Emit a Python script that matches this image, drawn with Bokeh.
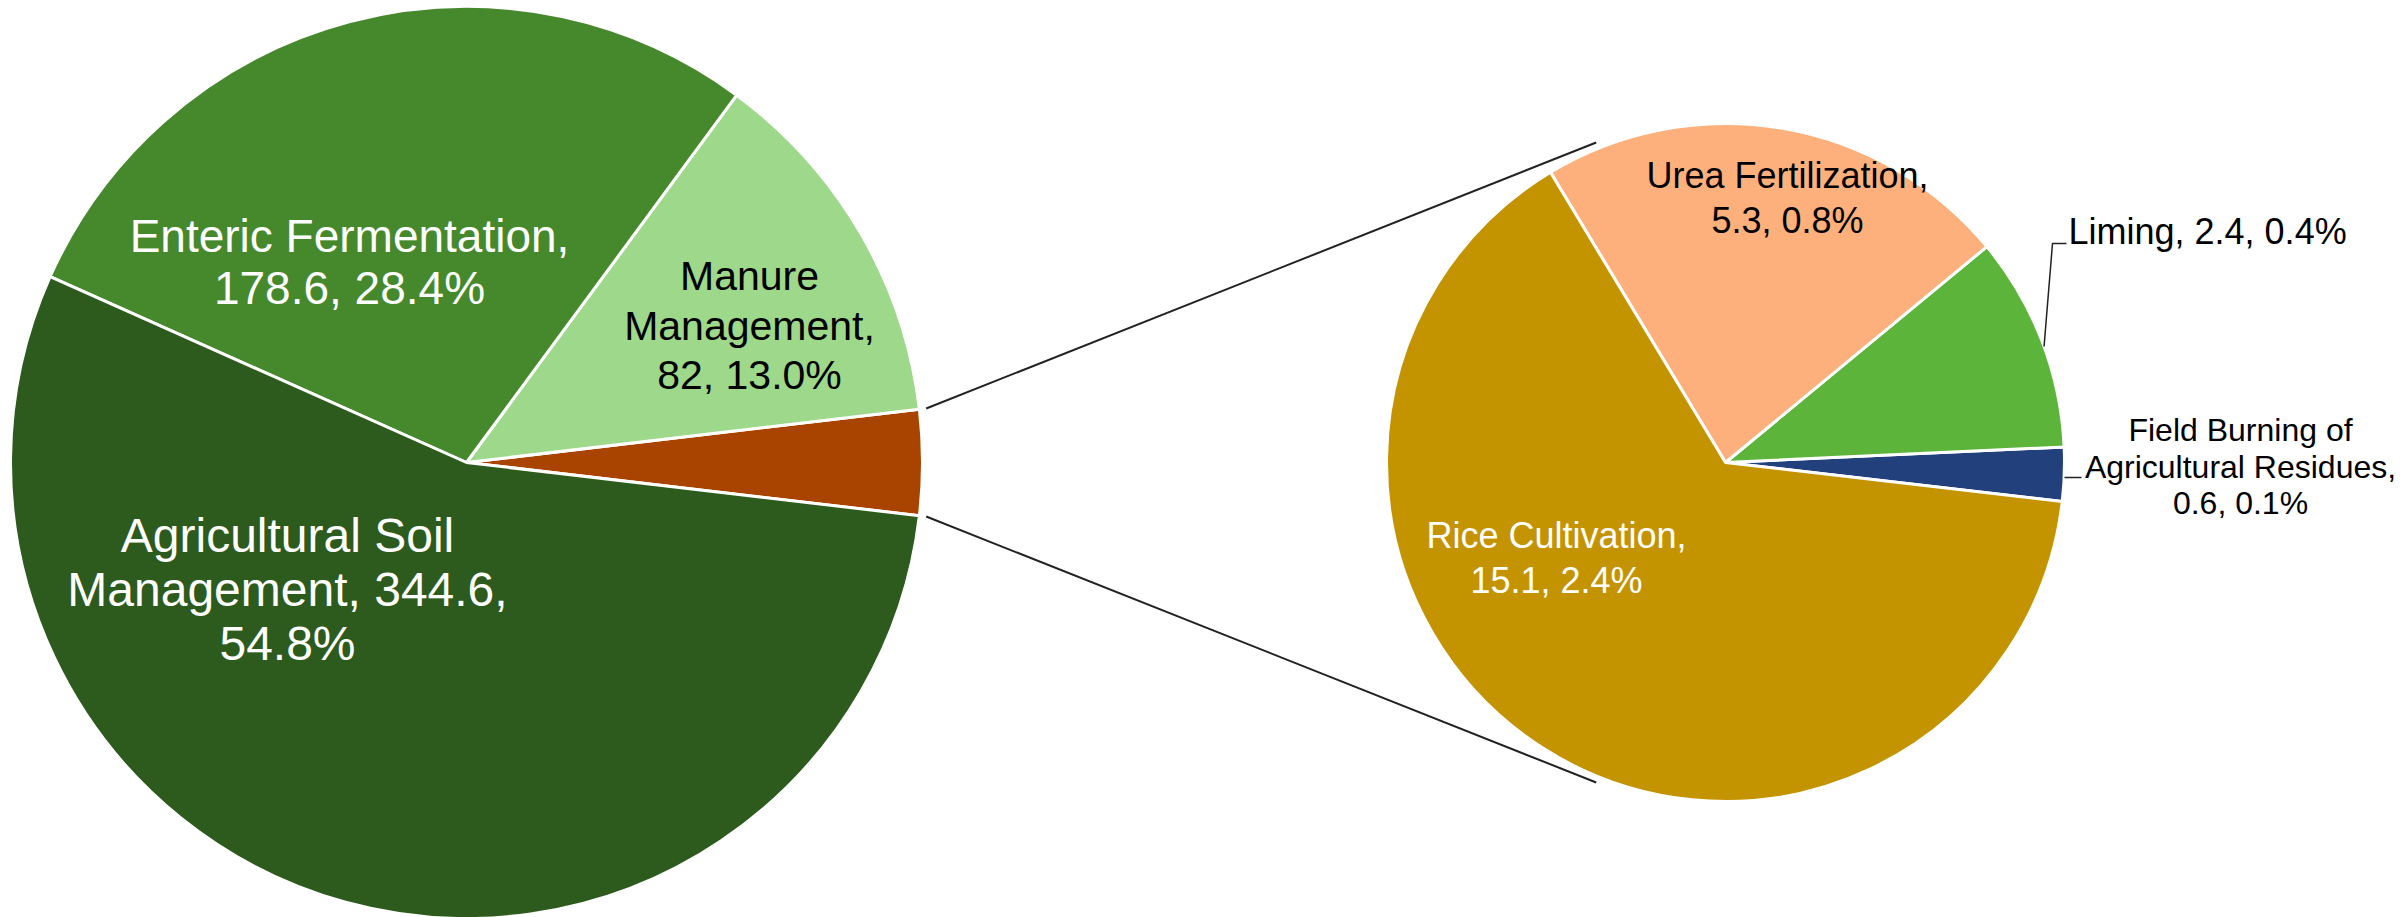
import math
from bokeh.plotting import figure
from bokeh.models import ColumnDataSource, Range1d
from bokeh.core.properties import value
from bokeh.embed import file_html
from bokeh.resources import INLINE

# ---------------- data ----------------
sub_categories = ["Field Burning of Agricultural Residues", "Liming", "Urea Fertilization", "Rice Cultivation"]
sub_values = [0.6, 2.4, 5.3, 15.1]
sub_colors = ["#22407C", "#5DB43A", "#FDB07C", "#C49300"]

main_categories = ["Other", "Manure Management", "Enteric Fermentation", "Agricultural Soil Management"]
main_values = [round(sum(sub_values), 1), 82, 178.6, 344.6]
main_colors = ["#A84300", "#9ED88A", "#46892D", "#2D5A1D"]

TOTAL = sum(main_values)

# ---------------- layout ----------------
W, H = 2408, 917
def Y(ypx):
    return H - ypx

L_CX, L_CY, L_R = 466, 462, 456
R_CX, R_CY, R_R = 1725, 462, 339
SUB_START = -6.6  # degrees

p = figure(width=W, height=H, output_backend="svg", toolbar_location=None,
           x_range=Range1d(0, W), y_range=Range1d(0, H),
           x_axis_type=None, y_axis_type=None, min_border=0,
           outline_line_color=None, background_fill_color="white",
           border_fill_color="white")
p.grid.visible = False

# main pie: "Other" slice centred at 0 deg
other_span = 360.0 * main_values[0] / TOTAL
starts, ends = [], []
a = -other_span / 2
for v in main_values:
    span = 360.0 * v / TOTAL
    starts.append(a)
    ends.append(a + span)
    a += span
src_main = ColumnDataSource(dict(start=[math.radians(s) for s in starts],
                                 end=[math.radians(e) for e in ends],
                                 color=main_colors, name=main_categories))
p.wedge(x=L_CX, y=Y(L_CY), radius=L_R, start_angle="start", end_angle="end",
        fill_color="color", line_color="white", line_width=3, source=src_main)

# secondary pie
sub_total = sum(sub_values)
s_starts, s_ends = [], []
a = SUB_START
for v in sub_values:
    span = 360.0 * v / sub_total
    s_starts.append(a)
    s_ends.append(a + span)
    a += span
src_sub = ColumnDataSource(dict(start=[math.radians(s) for s in s_starts],
                                end=[math.radians(e) for e in s_ends],
                                color=sub_colors, name=sub_categories))
p.wedge(x=R_CX, y=Y(R_CY), radius=R_R, start_angle="start", end_angle="end",
        fill_color="color", line_color="white", line_width=3, source=src_sub)

# connector lines
def pt(cx, cy, r, ang):
    return cx + r * math.cos(math.radians(ang)), Y(cy) + r * math.sin(math.radians(ang))

x0, y0 = pt(L_CX, L_CY, L_R * 1.015, ends[0])
x1, y1 = pt(R_CX, R_CY, R_R * 1.018, 112)
p.line([x0, x1], [y0, y1], line_color="#222222", line_width=2)
x0, y0 = pt(L_CX, L_CY, L_R * 1.015, starts[0])
x1, y1 = pt(R_CX, R_CY, R_R * 1.018, -112)
p.line([x0, x1], [y0, y1], line_color="#222222", line_width=2)

# leader lines
liming_mid = 20
lx, ly = pt(R_CX, R_CY, R_R, liming_mid)
p.line([lx, 2052, 2066], [ly, Y(243), Y(243)], line_color="#222222", line_width=1.5)
p.line([2064, 2081], [Y(477), Y(477)], line_color="#222222", line_width=1.5)

# labels
def label_lines(name, v, words_per_line):
    full = f"{name}, {v:g}, {100.0 * v / TOTAL:.1f}%"
    words = full.split(" ")
    out, i = [], 0
    for n in words_per_line:
        out.append(" ".join(words[i:i + n]))
        i += n
    return out

FONT = value("Liberation Sans")
label_specs = [
    # name, value, words per line, x, baselines, size(px), color, align
    (main_categories[3], main_values[3], [2, 2, 1], 287, [550, 604, 658], 48, "white", "center"),
    (main_categories[2], main_values[2], [2, 2], 349, [250, 302], 46, "white", "center"),
    (main_categories[1], main_values[1], [1, 1, 2], 749, [289, 339, 388], 41, "black", "center"),
    (sub_categories[2], sub_values[2], [2, 2], 1787, [187, 232], 36, "black", "center"),
    (sub_categories[3], sub_values[3], [2, 2], 1556, [547, 592], 36, "white", "center"),
    (sub_categories[1], sub_values[1], [4], 2068, [243], 36, "black", "left"),
    (sub_categories[0], sub_values[0], [3, 2, 2], 2240, [440, 477, 513], 32, "black", "center"),
]
for name, v, wpl, x, bls, size, color, align in label_specs:
    lines = label_lines(name, v, wpl)
    p.text(x=[x] * len(lines), y=[Y(b - 0.32 * size) for b in bls], text=lines,
           text_font=FONT, text_font_size=f"{size}px", text_color=color,
           text_align=align, text_baseline="middle")

open("out.html", "w").write(file_html(p, INLINE))
